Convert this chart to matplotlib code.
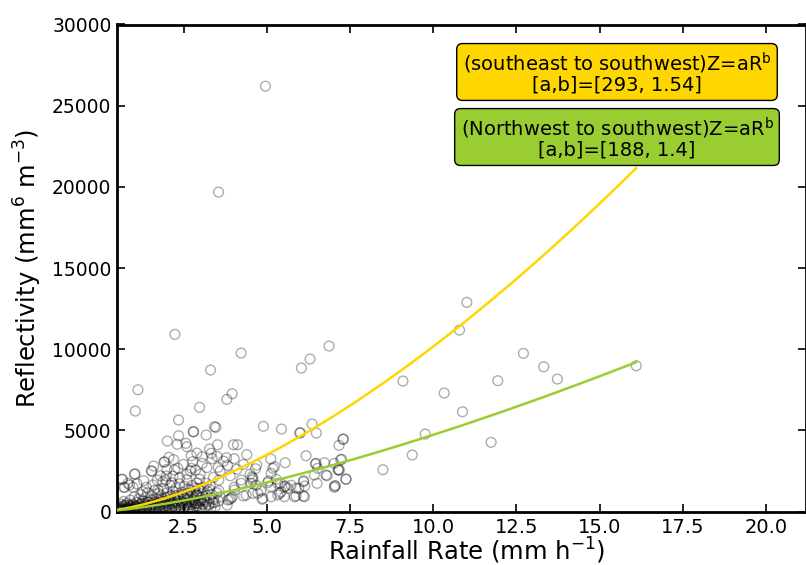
import numpy as np
import matplotlib
matplotlib.use("Agg")
import matplotlib.pyplot as plt

# ---------------- data ----------------
# sparse / outlying points (rain rate mm/h, reflectivity mm6 m-3)
pts_x = [4.96, 3.55, 2.24, 4.23, 3.31, 6.87, 6.30, 6.04, 3.96, 3.80, 1.13, 1.05,
         2.98, 2.35, 4.90, 5.44, 6.36, 6.49, 5.99, 3.47, 2.79, 2.35, 3.18, 2.01,
         2.31, 2.57, 2.60, 3.52, 4.00, 4.12, 3.28, 7.17, 7.29, 1.91, 2.06, 2.73,
         2.77, 2.73, 3.06, 3.06, 3.33, 3.36, 3.54, 3.82, 3.79, 4.02, 5.12, 5.55,
         5.18, 6.18, 6.46, 6.73, 6.53, 6.81, 7.15, 7.25, 7.38, 7.04, 6.51, 6.10,
         6.14, 5.96, 5.88, 6.10, 5.73, 5.56, 5.41, 5.28, 5.43, 5.33, 5.12, 5.05,
         4.57, 4.56, 4.66, 4.68, 4.82, 4.86, 4.58, 4.30, 4.23, 4.02, 3.96, 3.81,
         3.88, 3.56, 3.56, 3.28, 3.43, 3.27, 3.05, 2.88, 2.90, 2.95, 3.18, 2.98,
         2.86, 2.70, 2.60, 2.38, 2.33, 2.18, 2.14, 1.96, 1.88, 1.71, 1.55, 1.04,
         0.66, 0.70, 0.83, 0.98, 1.28, 1.38, 1.58, 1.73,
         9.09, 10.33, 9.76, 9.37, 8.49, 7.30, 7.22, 7.15, 7.38, 7.06,
         11.01, 10.79, 12.71, 13.32, 13.73, 11.94, 10.88, 11.74, 16.10,
         6.01, 4.70, 5.23, 5.13, 5.03, 5.33, 5.53, 5.38, 5.63, 5.88, 6.11, 6.13,
         5.83, 5.53, 5.13, 4.88, 4.73, 4.58, 4.53, 4.23, 4.03, 3.83, 3.93, 4.38,
         6.43, 6.78, 7.18, 7.03, 6.48, 7.03, 3.43, 2.80,
         3.0, 3.2, 3.4, 3.6, 3.7, 3.9, 4.1, 4.3, 2.5, 2.2, 2.9, 3.5, 4.4, 4.5,
         2.0, 1.8, 1.6, 1.3, 1.1, 2.6, 1.03, 0.65, 0.73, 0.88, 1.53, 1.98, 1.93, 2.23]
pts_y = [26200, 19675, 10912, 9760, 8714, 10192, 9391, 8837, 7255, 6909, 7500, 6188,
         6417, 5635, 5247, 5080, 5388, 4834, 4834, 5185, 4914, 4668, 4711, 4341,
         4138, 4200, 3990, 4114, 4114, 4114, 3849, 4077, 4446, 3048, 3338, 3436,
         3067, 2660, 2968, 3375, 3584, 3252, 2722, 2845, 3313, 3252, 3233, 3005,
         2660, 3436, 2925, 3005, 2660, 2205, 2556, 3214, 2001, 1570, 1737, 1835,
         1570, 1429, 955, 955, 1613, 1570, 1737, 1983, 1201, 1016, 1527, 1878,
         1940, 2143, 2636, 1613, 1262, 751, 1121, 955, 1737, 1490, 893, 400,
         751, 1940, 1281, 1367, 542, 462, 665, 505, 1016, 1429, 1737, 1983,
         2556, 2494, 1958, 2081, 2660, 2186, 1774, 1940, 1835, 1940, 2476, 2309,
         1983, 1490, 1737, 1490, 1219, 1490, 1632, 1324,
         8035, 7297, 4773, 3480, 2575, 4465, 3190, 2575, 1983, 1590,
         12883, 11177, 9742, 8917, 8159, 8055, 6146, 4261, 8979,
         4853, 2864, 2760, 2352, 1774, 1737, 1527, 1121, 1429, 1429, 1897, 911,
         911, 911, 911, 813, 1121, 2044, 1737, 1940, 1324, 708, 813, 1016,
         2248, 2248, 2556, 1490, 2968, 2968, 5222, 4914,
         2300, 2700, 2100, 2500, 3100, 2200, 2600, 2900, 2900, 3200, 3600, 3400, 3500, 2300,
         2600, 2200, 2800, 1900, 1700, 2300, 2309, 1983, 1490, 1632, 2512, 2186, 3048, 2556]

# dense cluster near the origin
dense_x = [0.52, 0.55, 0.58, 0.60, 0.62, 0.65, 0.68, 0.70, 0.72, 0.75, 0.78, 0.80, 0.82,
           0.85, 0.88, 0.90, 0.92, 0.95, 0.98, 1.00, 1.02, 1.05, 1.08, 1.10, 1.12, 1.15,
           1.18, 1.20, 1.22, 1.25, 1.28, 1.30, 1.32, 1.35, 1.38, 1.40, 1.42, 1.45, 1.48,
           1.50, 1.52, 1.55, 1.58, 1.60, 1.62, 1.65, 1.68, 1.70, 1.72, 1.75, 1.78, 1.80,
           1.82, 1.85, 1.88, 1.90, 1.92, 1.95, 1.98, 2.00, 2.02, 2.05, 2.08, 2.10, 2.12,
           2.15, 2.18, 2.20, 2.22, 2.25, 2.28, 2.30, 2.32, 2.35, 2.38, 2.40, 2.42, 2.45,
           2.48, 2.50, 2.52, 2.55, 2.58, 2.60, 2.62, 2.65, 2.68, 2.70, 2.72, 2.75, 2.78,
           2.80, 2.82, 2.85, 2.88, 2.90, 2.92, 2.95, 2.98, 3.00, 3.02, 3.05, 3.08, 3.10,
           3.12, 3.15, 3.18, 3.20, 3.22, 3.25, 3.28, 3.30, 3.32, 3.35, 3.38, 3.40, 3.45,
           3.50, 3.55, 3.60,
           0.50, 0.53, 0.57, 0.60, 0.63, 0.66, 0.70, 0.73, 0.76, 0.80, 0.84, 0.87, 0.90,
           0.94, 0.97, 1.00, 1.04, 1.07, 1.10, 1.13, 1.17, 1.20, 1.24, 1.27, 1.31, 1.34,
           1.37, 1.41, 1.44, 1.47, 1.51, 1.54, 1.57, 1.61, 1.64, 1.67, 1.71, 1.74, 1.77,
           1.81, 1.84, 1.87, 1.91, 1.94, 1.97, 2.01, 2.04, 2.07, 2.11, 2.14, 2.17, 2.21,
           2.24, 2.27, 2.31, 2.34, 2.37, 2.41, 2.44, 2.47, 2.51, 2.54, 2.57, 2.61, 2.64,
           2.67, 2.71, 2.74, 2.77, 2.81, 2.84, 2.87, 2.91, 2.94, 2.97, 3.01]
dense_y = [60, 150, 300, 90, 450, 200, 120, 620, 350, 80, 250, 500, 160,
           380, 90, 700, 280, 140, 450, 220, 900, 320, 100, 560, 250, 760,
           180, 420, 1050, 300, 650, 140, 480, 850, 220, 360, 1150, 560, 110,
           700, 300, 950, 420, 190, 1300, 600, 260, 820, 460, 1100, 150, 380,
           980, 640, 240, 1400, 520, 860, 330, 1150, 180, 700, 450, 1600, 950,
           300, 1250, 560, 800, 200, 1450, 650, 1000, 380, 1700, 850, 250, 1200,
           520, 950, 1550, 320, 700, 1100, 180, 1350, 600, 900, 420, 1600, 750,
           260, 1200, 500, 980, 1750, 350, 650, 1300, 150, 850, 1100, 450, 1500,
           700, 280, 1000, 600, 1250, 380, 850, 1600, 200, 1050, 550, 750, 300,
           1150, 650, 900,
           30, 100, 40, 200, 70, 330, 150, 50, 400, 120, 230, 60, 340,
           180, 80, 400, 130, 280, 60, 350, 200, 90, 500, 230, 70, 400,
           160, 270, 600, 200, 380, 90, 510, 240, 380, 120, 560, 300, 680,
           180, 450, 760, 300, 100, 580, 400, 900, 250, 620, 120, 480, 350,
           980, 240, 540, 820, 150, 600, 420, 1050, 250, 800, 500, 400, 950,
           220, 1300, 560, 100, 700, 1450, 300, 1000, 500, 220, 650]

# fitted Z = a R^b relations
fit_labels = ["(southeast to southwest)Z=aR$\\mathregular{^b}$\n[a,b]=[293, 1.54]",
              "(Northwest to southwest)Z=aR$\\mathregular{^b}$\n[a,b]=[188, 1.4]"]
fit_a = [293, 188]
fit_b = [1.54, 1.4]
fit_colors = ["#FFD700", "#9ACD32"]

x_ticks = [2.5, 5.0, 7.5, 10.0, 12.5, 15.0, 17.5, 20.0]
y_ticks = [0, 5000, 10000, 15000, 20000, 25000, 30000]

# ---------------- plot ----------------
fig = plt.figure(figsize=(8.06, 5.65), dpi=100)
ax = fig.add_axes([117/806, 53.5/565, 1 - 117/806, (511.5 - 24.5)/565])

all_x = np.array(pts_x + dense_x)
all_y = np.array(pts_y + dense_y)
ax.scatter(all_x, all_y, s=50, facecolors="none", edgecolors=(0, 0, 0, 0.32),
           linewidths=1.0, zorder=2)

R = np.linspace(all_x.min(), all_x.max(), 300)
for a, b, c in zip(fit_a, fit_b, fit_colors):
    ax.plot(R, a * R ** b, color=c, lw=1.8, zorder=3)

ax.set_xlim(0.5, 21.2)
ax.set_ylim(0, 30000)
ax.set_xticks(x_ticks)
ax.set_yticks(y_ticks)
ax.set_xticklabels([f"{t:.1f}" for t in x_ticks], fontsize=14)
ax.set_yticklabels([str(t) for t in y_ticks], fontsize=13.5)
ax.tick_params(direction="in", top=True, right=True, length=6, width=1.2)
ax.tick_params(axis="x", pad=5)
ax.tick_params(axis="y", pad=4)
for sp in ax.spines.values():
    sp.set_linewidth(2)

ax.set_xlabel("Rainfall Rate (mm h$^{-1}$)", fontsize=17.5)
ax.xaxis.set_label_coords((467 - 117) / 689, -(536 - 511.5) / 487)
ax.set_ylabel("Reflectivity (mm$^6$ m$^{-3}$)", fontsize=17.5, labelpad=6)

box_y = [0.8717, 0.7566]
for lab, c, yy in zip(fit_labels, fit_colors, box_y):
    fig.text(617/806, yy, lab, ha="center", va="center", fontsize=14,
             linespacing=1.0,
             bbox=dict(boxstyle="round,pad=0.3", fc=c, ec="black", lw=1))

fig.savefig("out.png", dpi=100)
